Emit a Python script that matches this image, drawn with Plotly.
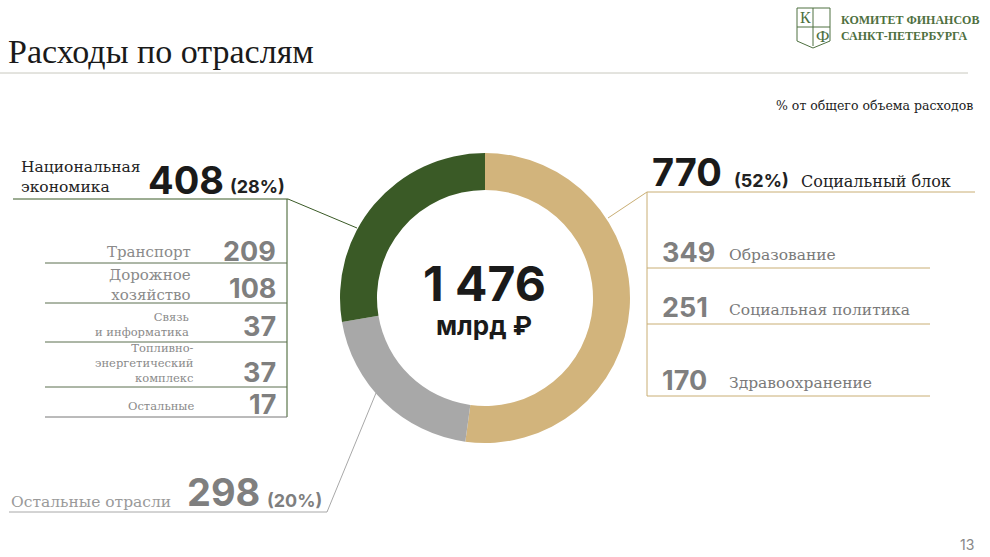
import plotly.graph_objects as go

W, H = 990, 557

# Data
sectors = ["Социальный блок", "Остальные отрасли", "Национальная экономика"]
totals = [770, 298, 408]
shares = [52, 20, 28]
colors = ["#D2B47C", "#A8A8A8", "#3A5A26"]
total_sum = "1 476"

social_items = ["Образование", "Социальная политика", "Здравоохранение"]
social_values = [349, 251, 170]

economy_items = ["Транспорт", "Дорожное<br>хозяйство", "Связь<br>и информатика",
                 "Топливно-<br>энергетический<br>комплекс", "Остальные"]
economy_values = [209, 108, 37, 37, 17]

SERIF = "DejaVu Serif"
SANS = "Inter"
GREEN = "#3A5A26"
TAN = "#C9AE74"
GRAY = "#7F7F7F"


def px(x):
    return x / W


def py(y):
    return 1 - y / H


fig = go.Figure()
fig.add_trace(go.Pie(
    labels=sectors, values=totals, hole=0.745, sort=False, direction="clockwise",
    marker=dict(colors=colors, line=dict(width=0)), textinfo="none",
    hoverinfo="label+value", showlegend=False,
    domain=dict(x=[px(340), px(630)], y=[py(443), py(153)]),
))

ann = []
shapes = []


def text(s, x, y, size, color="#222", family=SERIF, bold=False, xa="left", ya="middle"):
    if bold:
        s = "<b>" + s + "</b>"
    ann.append(dict(text=s, x=px(x), y=py(y), xref="paper", yref="paper", showarrow=False,
                    xanchor=xa, yanchor=ya, align=xa if xa != "center" else "center",
                    font=dict(size=size, color=color, family=family)))


def line(x0, y0, x1, y1, color, width=1):
    shapes.append(dict(type="line", xref="paper", yref="paper", x0=px(x0), y0=py(y0),
                       x1=px(x1), y1=py(y1), line=dict(color=color, width=width)))


# header
text("Расходы по отраслям", 6, 52, 34, "#1a1a1a", "Liberation Serif")
line(0, 73, 968, 73, "#C8C8BE")
text("% от общего объема расходов", 975, 105, 12.5, "#222", SERIF, xa="right")
text("13", 976, 544, 14, "#888", SANS, xa="right")

# logo
LOGO = "#4E7040"
shapes.append(dict(type="path", xref="paper", yref="paper",
                   path="M {} {} L {} {} L {} {} L {} {} L {} {} Z".format(
                       px(797), py(8), px(830), py(8), px(830), py(41), px(813), py(48), px(797), py(41)),
                   line=dict(color=LOGO, width=1)))
line(813, 8, 813, 46, LOGO)
line(797, 27, 830, 27, LOGO)
text("К", 805, 18, 16, LOGO, "Liberation Serif", xa="center")
text("Ф", 822, 37, 17, LOGO, "Liberation Serif", xa="center")
text("<b>КОМИТЕТ ФИНАНСОВ</b>", 839, 20, 12, LOGO, "Liberation Serif")
text("<b>САНКТ-ПЕТЕРБУРГА</b>", 839, 36, 12, LOGO, "Liberation Serif")

# center
text(total_sum, 484, 283, 48, "#1a1a1a", SANS, bold=True, xa="center")
text("млрд ₽", 484, 325, 26, "#1a1a1a", SANS, bold=True, xa="center")

# national economy (left)
text("Национальная<br>экономика", 19, 177, 15.5, "#222")
text(str(totals[2]), 146, 180, 38, "#1a1a1a", SANS, bold=True)
text("({}%)".format(shares[2]), 228, 186, 18, "#222", SANS, bold=True)
line(13, 199, 288, 199, GREEN)
line(288, 199, 357, 228, GREEN)
line(287, 199, 287, 417, GREEN)

eco_rows = [(252, 251, 263, 15, 193), (285, 289, 303, 15, 193), (324, 326, 342, 11.5, 191),
            (363, 372, 387, 11.5, 196), (406, 404, 417, 11.5, 196)]
for name, val, (ty, vy, ly, fs, tx) in zip(economy_items, economy_values, eco_rows):
    text(name, tx, ty, fs, "#8A8A8A", xa="right")
    text(str(val), 278, vy, 27, GRAY, SANS, bold=True, xa="right")
    line(45, ly, 287, ly, "#5A6E4E" if ly != 417 else "#777")

# other sectors (bottom left)
text(sectors[1], 9, 502, 15.5, "#9A9A9A")
text(str(totals[1]), 185, 492, 38, GRAY, SANS, bold=True)
text("({}%)".format(shares[1]), 265, 500, 18, GRAY, SANS, bold=True)
line(9, 512, 327, 512, "#A8A8A8")
line(327, 512, 376, 393, "#A8A8A8")

# social block (right)
text(str(totals[0]), 650, 172, 38, "#1a1a1a", SANS, bold=True)
text("({}%)".format(shares[0]), 732, 180, 18, "#222", SANS, bold=True)
text(sectors[0], 799, 181, 16, "#222")
line(647, 192, 975, 192, TAN)
line(647, 192, 608, 218, TAN)
line(647, 192, 647, 396, TAN)

soc_rows = [(252, 268), (307, 324), (380, 396)]
for name, val, (ty, ly) in zip(social_items, social_values, soc_rows):
    text(str(val), 660, ty, 27, GRAY, SANS, bold=True)
    text(name, 727, ty + 3, 15.5, "#7A7A7A")
    line(647, ly, 930, ly, TAN)

fig.update_layout(
    width=W, height=H, margin=dict(l=0, r=0, t=0, b=0),
    paper_bgcolor="white", plot_bgcolor="white",
    annotations=ann, shapes=shapes,
)

fig.write_html("out.html", config={"displayModeBar": False},
               post_script="document.body.style.margin = '0px';")
